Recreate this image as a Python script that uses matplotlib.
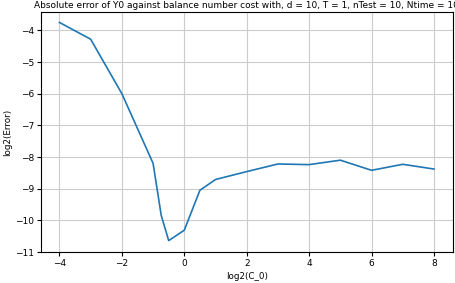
import matplotlib
matplotlib.use("Agg")
from matplotlib import pyplot as plt

log2_c0 = [-4, -3, -2, -1, -0.74, -0.5, 0, 0.5, 1, 2, 3, 4, 5, 6, 7, 8]
log2_err = [-3.75, -4.28, -6.0, -8.2, -9.84, -10.64, -10.31, -9.05, -8.71,
            -8.46, -8.22, -8.24, -8.1, -8.42, -8.23, -8.38]

fig = plt.figure(figsize=(4.55, 2.83), dpi=100)
ax = fig.add_axes([0.0895, 0.1095, 0.9055, 0.847])

ax.plot(log2_c0, log2_err, color="#1f77b4", lw=1.2)
ax.set_ylim(-11, -3.43)

ax.set_title("Absolute error of Y0 against balance number cost with, d = 10, T = 1, nTest = 10, Ntime = 10",
             fontsize=6.5, pad=3)
ax.set_xlabel("log2(C_0)", fontsize=6.3, labelpad=3)
ax.set_ylabel("log2(Error)", fontsize=6.3, labelpad=2)
ax.tick_params(labelsize=6.5, length=3, pad=2)
ax.grid(color="#cccccc", lw=0.8)

fig.savefig("out.png", dpi=100)
